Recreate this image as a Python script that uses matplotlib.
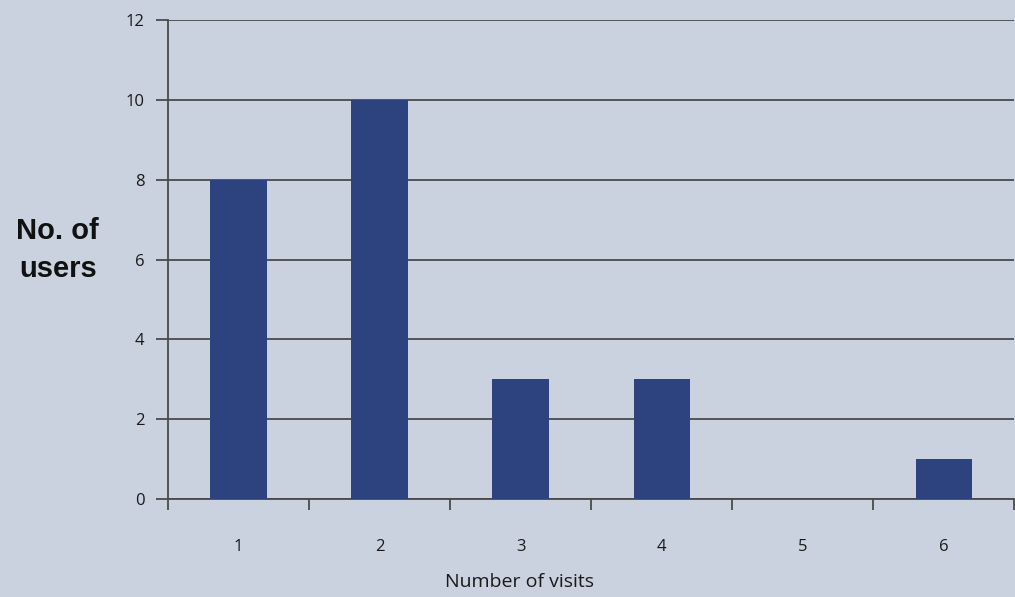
import matplotlib.pyplot as plt
from matplotlib.ticker import MultipleLocator, FixedLocator

visits = [1, 2, 3, 4, 5, 6]
users = [8, 10, 3, 3, 0, 1]

bg = "#cad1df"
bar_color = "#2d4380"
line_color = "#4a4a4a"

fig = plt.figure(figsize=(10.15, 5.97), dpi=100, facecolor=bg)
ax = fig.add_axes([0.1655, 0.164, 0.834, 0.8025], facecolor=bg)

ax.bar(visits, users, width=0.4, color=bar_color, zorder=3)

ax.set_xlim(0.5, 6.5)
ax.set_ylim(0, 12)
ax.yaxis.set_major_locator(MultipleLocator(2))
ax.grid(axis="y", color=line_color, linewidth=1.3, zorder=1)

ax.set_xticks(visits)
ax.xaxis.set_minor_locator(FixedLocator([v + 0.5 for v in [0] + visits]))
ax.tick_params(axis="x", which="major", length=0, pad=29)
ax.tick_params(axis="x", which="minor", length=8, width=1.3, color=line_color, direction="out")
ax.tick_params(axis="y", length=9, width=1.3, color=line_color, pad=8)

for lab in ax.get_xticklabels() + ax.get_yticklabels():
  lab.set_fontfamily("Open Sans")
  lab.set_fontsize(12)
  lab.set_color("#1a1a1a")

for s in ["top", "right"]:
  ax.spines[s].set_visible(False)
for s in ["left", "bottom"]:
  ax.spines[s].set_color(line_color)
  ax.spines[s].set_linewidth(1.3)

fig.text(0.512, 0.025, "Number of visits", ha="center", va="center", fontfamily="Open Sans",
         fontsize=14, color="#1a1a1a")
fig.text(0.057, 0.581, "No. of\nusers", ha="center", va="center", fontfamily="Liberation Sans",
         fontweight="bold", fontsize=21, color="#111111", linespacing=1.45)

fig.savefig("out.png", dpi=100, facecolor=bg)
